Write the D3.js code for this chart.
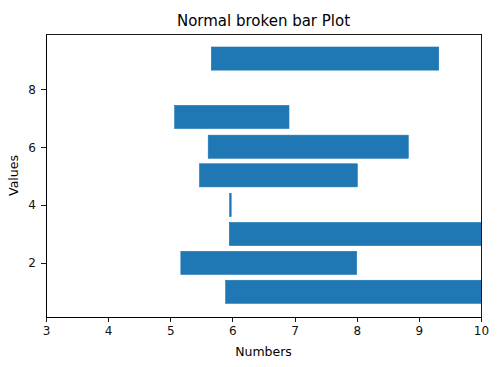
<!DOCTYPE html>
<meta charset="utf-8">
<style>
    body { margin: 0; background: #fff; }
    text { font-family: "DejaVu Sans", sans-serif; fill: #000; }
    .axis path, .axis line { stroke: #000; stroke-width: 0.9px; shape-rendering: crispEdges; }
    .axis text { font-size: 12px; fill: #111; }
    .bar { fill: #1f77b4; stroke: #1f77b4; stroke-width: 0.6px; }
</style>
<body>
<svg width="500" height="367"></svg>
<script src="https://d3js.org/d3.v7.min.js"></script>
<script>
    // bar data (centre row, start, end)
    var rows   = [1.0, 2.0, 3.0, 4.0, 5.03, 6.02, 7.05, 9.07];
    var starts = [5.89, 5.17, 5.95, 5.955, 5.47, 5.61, 5.07, 5.66];
    var ends   = [11.0, 8.0, 11.0, 5.98, 8.01, 8.83, 6.91, 9.32];
    var barHeight = 0.8;
    var xTicks = [3, 4, 5, 6, 7, 8, 9, 10];
    var yTicks = [2, 4, 6, 8];

    var svg = d3.select("svg"),
        margin = { top: 34, right: 20, bottom: 50, left: 46 },
        width = 481 - margin.left,
        height = 317 - margin.top;

    var x = d3.scaleLinear().domain([3, 10]).range([0, width]);
    var y = d3.scaleLinear().domain([0.128, 9.92]).range([height, 0]);

    var g = svg.append("g")
        .attr("transform", "translate(" + margin.left + "," + margin.top + ")");

    g.append("clipPath").attr("id", "clip")
        .append("rect").attr("width", width).attr("height", height);

    var data = rows.map(function(r, i) {
        return { row: r, start: starts[i], end: ends[i] };
    });

    g.append("g").attr("clip-path", "url(#clip)")
        .selectAll(".bar")
        .data(data)
        .enter().append("rect")
        .attr("class", "bar")
        .attr("x", function(d) { return x(d.start); })
        .attr("width", function(d) { return Math.max(1, x(d.end) - x(d.start)); })
        .attr("y", function(d) { return y(d.row + barHeight / 2); })
        .attr("height", function(d) { return y(d.row - barHeight / 2) - y(d.row + barHeight / 2); });

    g.append("g")
        .attr("class", "axis")
        .attr("transform", "translate(0," + height + ")")
        .call(d3.axisBottom(x).tickValues(xTicks).tickFormat(d3.format("d"))
            .tickSize(5).tickSizeOuter(0).tickPadding(4));

    g.append("g")
        .attr("class", "axis")
        .call(d3.axisLeft(y).tickValues(yTicks).tickFormat(d3.format("d"))
            .tickSize(5).tickSizeOuter(0).tickPadding(5));

    // box spines
    g.append("rect")
        .attr("width", width).attr("height", height)
        .attr("fill", "none").attr("stroke", "#000").attr("stroke-width", 0.9)
        .style("shape-rendering", "crispEdges");

    svg.append("text")
        .attr("x", margin.left + width / 2).attr("y", 26)
        .attr("text-anchor", "middle").style("font-size", "15px")
        .text("Normal broken bar Plot");

    svg.append("text")
        .attr("x", margin.left + width / 2).attr("y", 356)
        .attr("text-anchor", "middle").style("font-size", "12.5px")
        .text("Numbers");

    svg.append("text")
        .attr("transform", "translate(18," + (margin.top + height / 2) + ") rotate(-90)")
        .attr("text-anchor", "middle").style("font-size", "12.5px")
        .text("Values");
</script>
</body>
